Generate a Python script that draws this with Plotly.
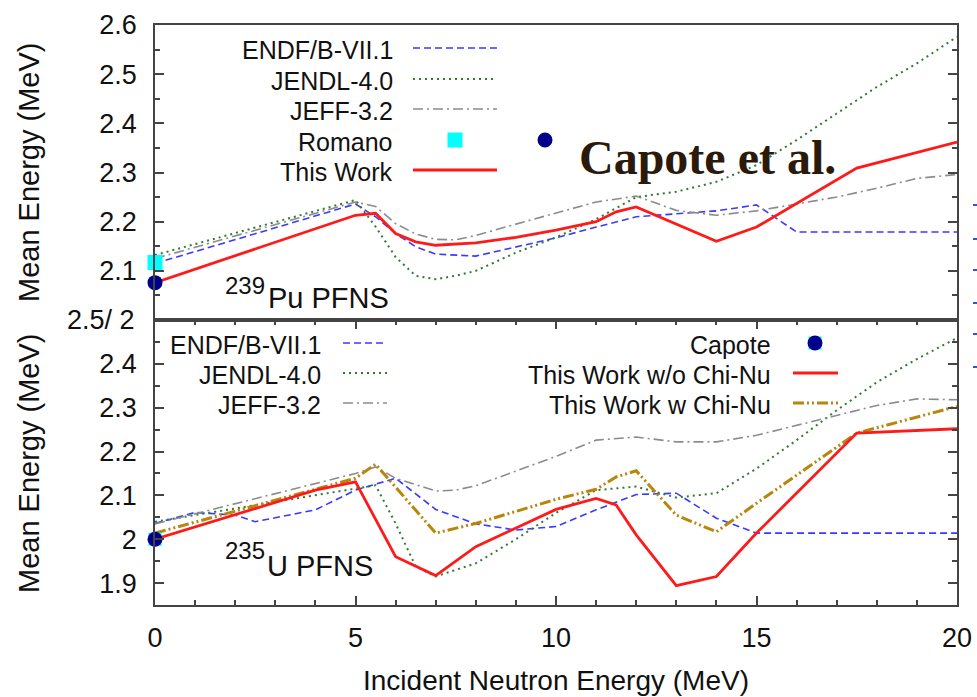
import plotly.graph_objects as go

# ---- 239Pu PFNS: mean outgoing energy (MeV) vs incident neutron energy (MeV)
pu_endf_x = [0, 5, 5.5, 6, 6.5, 7, 8, 10, 11, 12, 14, 15, 16, 20]
pu_endf_y = [2.115, 2.236, 2.210, 2.176, 2.149, 2.134, 2.130, 2.167, 2.189, 2.210, 2.222, 2.234, 2.179, 2.179]

pu_jendl_x = [0, 5, 5.5, 6, 6.5, 7, 7.5, 8, 9, 10, 11, 12, 13, 14, 15, 16, 17, 18, 19, 20]
pu_jendl_y = [2.132, 2.244, 2.190, 2.128, 2.090, 2.083, 2.090, 2.100, 2.137, 2.168, 2.205, 2.250,
              2.261, 2.281, 2.315, 2.366, 2.420, 2.474, 2.522, 2.576]

pu_jeff_x = [0, 5, 5.5, 6, 6.5, 7, 7.5, 8, 9, 10, 11, 12, 13, 14, 15, 16, 17, 18, 19, 20]
pu_jeff_y = [2.125, 2.240, 2.231, 2.196, 2.175, 2.164, 2.163, 2.172, 2.195, 2.217, 2.240, 2.252,
             2.223, 2.213, 2.222, 2.236, 2.250, 2.268, 2.288, 2.296]

pu_work_x = [0, 5, 5.5, 6, 6.5, 7, 8, 9, 10, 11, 11.5, 12, 14, 15, 17.5, 20]
pu_work_y = [2.076, 2.213, 2.217, 2.176, 2.159, 2.152, 2.157, 2.168, 2.183, 2.200, 2.220, 2.230,
             2.160, 2.189, 2.309, 2.362]

pu_romano_x = [0]
pu_romano_y = [2.117]
pu_capote_x = [0]
pu_capote_y = [2.076]

# ---- 235U PFNS
u_endf_x = [0, 1, 2, 2.5, 4, 5, 6, 7, 8, 9, 10, 11, 12, 13, 14, 15, 20]
u_endf_y = [2.036, 2.061, 2.055, 2.040, 2.067, 2.112, 2.139, 2.068, 2.035, 2.021, 2.029, 2.067,
            2.102, 2.105, 2.048, 2.014, 2.014]

u_jendl_x = [0, 5, 5.5, 6, 6.5, 7, 8, 9, 10, 11, 12, 13, 14, 15, 16, 17, 18, 19, 20]
u_jendl_y = [2.040, 2.116, 2.123, 2.036, 1.938, 1.915, 1.945, 2.000, 2.060, 2.112, 2.120, 2.095,
             2.105, 2.161, 2.226, 2.294, 2.358, 2.411, 2.459]

u_jeff_x = [0, 5, 5.5, 6, 7, 7.5, 8, 9, 10, 11, 12, 13, 14, 15, 16, 17, 18, 19, 20]
u_jeff_y = [2.035, 2.150, 2.165, 2.139, 2.110, 2.112, 2.122, 2.155, 2.189, 2.226, 2.233, 2.222,
            2.222, 2.237, 2.260, 2.283, 2.305, 2.320, 2.318]

u_work_x = [0, 4, 5, 6, 7, 8, 10, 11, 11.5, 12, 13, 14, 15, 17.5, 20]
u_work_y = [2.000, 2.112, 2.131, 1.960, 1.917, 1.983, 2.068, 2.093, 2.078, 2.010, 1.894, 1.915,
            2.014, 2.242, 2.252]

u_chinu_x = [0, 5, 5.5, 7, 8, 10, 11, 11.5, 12, 13, 14, 15, 17.5, 20]
u_chinu_y = [2.014, 2.139, 2.171, 2.014, 2.036, 2.091, 2.114, 2.142, 2.156, 2.055, 2.017, 2.082,
             2.242, 2.303]

u_capote_x = [0]
u_capote_y = [2.000]

x_ticks = [0, 5, 10, 15, 20]
pu_y_ticks = [2.1, 2.2, 2.3, 2.4, 2.5, 2.6]
pu_y_text = ["2.1", "2.2", "2.3", "2.4", "2.5", "2.6"]
u_y_ticks = [1.9, 2.0, 2.1, 2.2, 2.3, 2.4]
u_y_text = ["1.9", "2", "2.1", "2.2", "2.3", "2.4"]

# ---- styles
BLUE = "#3a3aff"
GREEN = "#2f7a2f"
GRAY = "#8c8c8c"
RED = "#ff1a1a"
GOLD = "#b8860b"
NAVY = "#00008b"
CYAN = "#00ffff"
FRAME = "#444444"
FONT = "Liberation Sans, Arial, Helvetica, sans-serif"

STY = {
    "endf": dict(color=BLUE, width=1.6, dash="7px,4px"),
    "jendl": dict(color=GREEN, width=2.0, dash="2px,4px"),
    "jeff": dict(color=GRAY, width=1.6, dash="10px,4px,2px,4px"),
    "work": dict(color=RED, width=2.8),
    "chinu": dict(color=GOLD, width=3.0, dash="11px,3px,2px,3px,2px,3px"),
}

W, H = 977, 697
ML, MR, MT, MB = 155, 20, 25, 92
PW = W - ML - MR
PH = H - MT - MB


def fx(p):
    return (p - ML) / PW


def fy(p):
    return (H - MB - p) / PH


SPLIT = fy(320)

fig = go.Figure()


def line(x, y, key, xa, ya):
    fig.add_trace(go.Scatter(x=x, y=y, mode="lines", line=STY[key], xaxis=xa, yaxis=ya,
                             hoverinfo="skip", showlegend=False, cliponaxis=True))


def marker(x, y, color, symbol, size, xa, ya):
    fig.add_trace(go.Scatter(x=x, y=y, mode="markers", xaxis=xa, yaxis=ya, showlegend=False,
                             marker=dict(color=color, symbol=symbol, size=size, line=dict(width=0)),
                             cliponaxis=False, hoverinfo="skip"))


# top panel (239Pu)
line(pu_endf_x, pu_endf_y, "endf", "x2", "y2")
line(pu_jendl_x, pu_jendl_y, "jendl", "x2", "y2")
line(pu_jeff_x, pu_jeff_y, "jeff", "x2", "y2")
line(pu_work_x, pu_work_y, "work", "x2", "y2")
marker(pu_romano_x, pu_romano_y, CYAN, "square", 15, "x2", "y2")
marker(pu_capote_x, pu_capote_y, NAVY, "circle", 15, "x2", "y2")

# bottom panel (235U)
line(u_endf_x, u_endf_y, "endf", "x", "y")
line(u_jendl_x, u_jendl_y, "jendl", "x", "y")
line(u_jeff_x, u_jeff_y, "jeff", "x", "y")
line(u_chinu_x, u_chinu_y, "chinu", "x", "y")
line(u_work_x, u_work_y, "work", "x", "y")
marker(u_capote_x, u_capote_y, CYAN, "square", 13, "x", "y")
marker(u_capote_x, u_capote_y, NAVY, "circle", 15, "x", "y")

shapes = []
annots = []


def text(s, x, y, size, xanchor="center", angle=0, family=FONT, color="#111111", bold=False):
    if bold:
        s = "<b>" + s + "</b>"
    annots.append(dict(text=s, x=fx(x), y=fy(y), xref="paper", yref="paper", showarrow=False,
                       xanchor=xanchor, yanchor="middle", textangle=angle,
                       font=dict(family=family, size=size, color=color)))


def sample(key, x0, x1, y):
    st = STY[key]
    shapes.append(dict(type="line", xref="paper", yref="paper", x0=fx(x0), x1=fx(x1), y0=fy(y), y1=fy(y),
                       line=dict(color=st["color"], width=st["width"], dash=st.get("dash", "solid"))))


def blob(kind, cx, cy, r, color):
    shapes.append(dict(type=kind, xref="paper", yref="paper", x0=fx(cx - r), x1=fx(cx + r),
                       y0=fy(cy + r), y1=fy(cy - r), fillcolor=color, line=dict(width=0)))


# top legend
rows_top = [48, 79, 109, 140, 170]
for lab, r in zip(["ENDF/B-VII.1", "JENDL-4.0", "JEFF-3.2", "Romano", "This Work"], rows_top):
    text(lab, 395, r + 2, 25, xanchor="right")
sample("endf", 413, 497, rows_top[0])
sample("jendl", 413, 497, rows_top[1])
sample("jeff", 413, 497, rows_top[2])
blob("rect", 455, rows_top[3], 7.5, CYAN)
sample("work", 413, 497, rows_top[4])

# Capote et al. tag
blob("circle", 545, 140, 7.5, NAVY)
text("Capote et al.", 577, 157, 48, xanchor="left", family="Liberation Serif, Times New Roman, serif",
     color="#2b1a0a", bold=True)

# bottom-left legend
rows_bot = [343, 373, 403]
for lab, r in zip(["ENDF/B-VII.1", "JENDL-4.0", "JEFF-3.2"], rows_bot):
    text(lab, 323, r + 2, 25, xanchor="right")
sample("endf", 343, 387, rows_bot[0])
sample("jendl", 343, 387, rows_bot[1])
sample("jeff", 343, 387, rows_bot[2])

# bottom-right legend
for lab, r in zip(["Capote", "This Work w/o Chi-Nu", "This Work w Chi-Nu"], rows_bot):
    text(lab, 773, r + 2, 25, xanchor="right")
blob("rect", 815, rows_bot[0], 6.5, CYAN)
blob("circle", 815, rows_bot[0], 7.5, NAVY)
sample("work", 793, 838, rows_bot[1])
sample("chinu", 793, 838, rows_bot[2])

# panel labels
text("239", 223, 285, 24, xanchor="left")
text("Pu PFNS", 266, 298, 29, xanchor="left")
text("235", 223, 550, 24, xanchor="left")
text("U PFNS", 265, 566, 29, xanchor="left")

# axis titles and the shared boundary tick label
text("Mean Energy (MeV)", 29, 172, 29, angle=-90)
text("Mean Energy (MeV)", 29, 463, 29, angle=-90)
text("Incident Neutron Energy (MeV)", 556, 680, 28)
text("2.5/ 2", 137, 320, 27, xanchor="right")

# small blue marks along the right page edge
for yy in [205, 239, 270, 303, 334, 367]:
    shapes.append(dict(type="line", xref="paper", yref="paper", x0=fx(973), x1=fx(977),
                       y0=fy(yy), y1=fy(yy), line=dict(color="#2a55d8", width=2)))

common = dict(showline=True, linecolor=FRAME, linewidth=1.5, showgrid=False, zeroline=False,
              automargin=False, tickcolor=FRAME,
              tickfont=dict(family=FONT, size=27, color="#111111"))

fig.update_layout(
    width=W, height=H,
    margin=dict(l=ML, r=MR, t=MT, b=MB, autoexpand=False),
    paper_bgcolor="white", plot_bgcolor="white",
    showlegend=False,
    shapes=shapes, annotations=annots,
    xaxis=dict(domain=[0, 1], range=[0, 20], anchor="y", tickmode="array", tickvals=x_ticks,
               ticks="inside", ticklen=9, tickwidth=1.5, mirror="allticks", ticklabelstandoff=8,
               minor=dict(tickmode="linear", tick0=0, dtick=1, ticks="inside", ticklen=5,
                          tickwidth=1.5, tickcolor=FRAME),
               **common),
    yaxis=dict(domain=[0, SPLIT], range=[1.85, 2.5], anchor="x", tickmode="array", tickvals=u_y_ticks,
               ticktext=u_y_text, ticks="inside", ticklen=9, tickwidth=1.5, mirror="allticks",
               ticklabelstandoff=11,
               minor=dict(tickmode="linear", tick0=1.85, dtick=0.05, ticks="inside", ticklen=5,
                          tickwidth=1.5, tickcolor=FRAME),
               **common),
    xaxis2=dict(domain=[0, 1], range=[0, 20], anchor="y2", matches="x", showticklabels=False,
                ticks="", mirror=True, **common),
    yaxis2=dict(domain=[SPLIT, 1], range=[2.0, 2.6], anchor="x2", tickmode="array", tickvals=pu_y_ticks,
                ticktext=pu_y_text, ticks="inside", ticklen=9, tickwidth=1.5, mirror="allticks",
                ticklabelstandoff=11,
                minor=dict(tickmode="linear", tick0=2.0, dtick=0.05, ticks="inside", ticklen=5,
                           tickwidth=1.5, tickcolor=FRAME),
                **common),
)

fig.write_html("out.html")
